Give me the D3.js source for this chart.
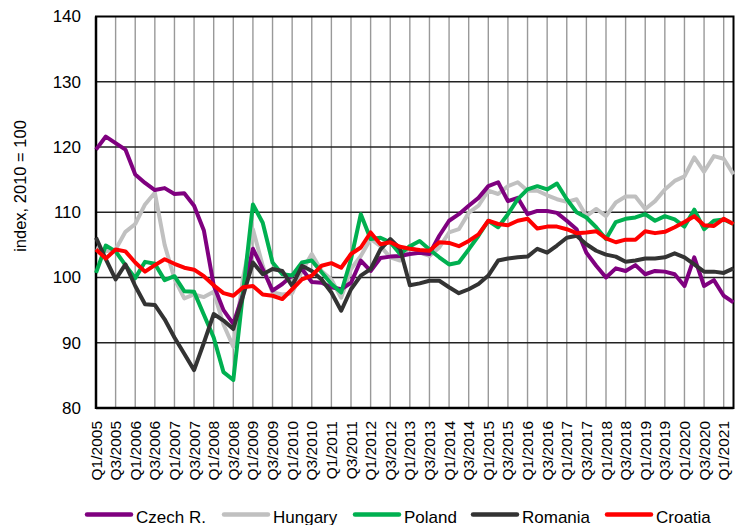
<!DOCTYPE html>
<html>
<head>
<meta charset="utf-8">
<script src="https://cdn.jsdelivr.net/npm/d3@7"></script>
<style>
  html, body { margin: 0; padding: 0; background: #fff; }
  svg { display: block; font-family: "Liberation Sans", Arial, sans-serif; }
</style>
</head>
<body>
<svg id="chart" width="735" height="525"></svg>
<script>
// Quarterly periods, Q1/2005 .. Q2/2021
const quarters = [
  "Q1/2005","Q2/2005","Q3/2005","Q4/2005","Q1/2006","Q2/2006","Q3/2006","Q4/2006",
  "Q1/2007","Q2/2007","Q3/2007","Q4/2007","Q1/2008","Q2/2008","Q3/2008","Q4/2008",
  "Q1/2009","Q2/2009","Q3/2009","Q4/2009","Q1/2010","Q2/2010","Q3/2010","Q4/2010",
  "Q1/2011","Q2/2011","Q3/2011","Q4/2011","Q1/2012","Q2/2012","Q3/2012","Q4/2012",
  "Q1/2013","Q2/2013","Q3/2013","Q4/2013","Q1/2014","Q2/2014","Q3/2014","Q4/2014",
  "Q1/2015","Q2/2015","Q3/2015","Q4/2015","Q1/2016","Q2/2016","Q3/2016","Q4/2016",
  "Q1/2017","Q2/2017","Q3/2017","Q4/2017","Q1/2018","Q2/2018","Q3/2018","Q4/2018",
  "Q1/2019","Q2/2019","Q3/2019","Q4/2019","Q1/2020","Q2/2020","Q3/2020","Q4/2020",
  "Q1/2021","Q2/2021"
];

// Index values, 2010 = 100
const czech = [
  119.6,121.6,120.6,119.6,115.8,114.5,113.4,113.7,112.8,112.9,111.0,107.2,
  98.8,95.0,92.9,97.5,104.4,101.3,98.0,99.0,100.3,101.3,99.3,99.2,
  98.5,98.2,99.2,102.6,101.0,103.0,103.2,103.3,103.6,103.8,103.6,106.4,
  108.7,109.7,111.0,112.2,114.0,114.6,111.7,112.2,109.7,110.2,110.2,109.9,
  108.7,107.4,103.8,101.8,100.0,101.4,101.0,101.9,100.5,101.0,100.9,100.5,
  98.7,103.1,98.7,99.6,97.2,96.2
];
const hungary = [
  104.5,104.0,104.3,107.0,108.2,111.2,113.0,105.0,99.8,96.8,97.4,97.0,
  97.8,92.8,89.4,100.0,107.4,101.8,97.7,97.4,97.6,101.0,103.6,101.0,
  99.7,96.9,101.3,103.3,105.9,104.8,103.1,102.6,104.8,103.8,103.3,104.6,
  106.9,107.4,109.9,111.0,113.3,112.8,114.0,114.6,113.3,113.3,112.6,112.0,
  111.6,112.0,109.4,110.5,109.4,111.5,112.4,112.4,110.5,111.7,113.5,114.8,
  115.5,118.4,116.2,118.6,118.2,115.8
];
const poland = [
  100.7,104.9,104.0,101.9,99.9,102.4,102.1,99.6,100.2,97.9,97.8,94.3,
  90.8,85.5,84.3,97.8,111.2,108.4,102.3,100.5,100.3,102.3,102.6,100.8,
  99.0,97.7,102.8,109.7,105.9,106.1,105.4,103.6,104.8,105.6,104.3,103.1,
  102.0,102.3,104.3,106.4,108.7,107.7,109.7,112.0,113.5,114.0,113.5,114.4,
  112.0,110.0,109.2,107.7,105.9,108.5,109.0,109.2,109.7,108.7,109.4,108.9,
  107.8,110.4,107.4,108.7,108.9,108.2
];
const romania = [
  106.1,102.8,99.7,102.0,98.7,95.9,95.8,93.6,90.8,88.3,85.8,90.0,
  94.4,93.4,92.1,97.2,102.3,100.5,101.3,101.0,98.7,101.8,101.0,99.7,
  97.7,94.9,98.2,100.3,101.3,104.3,105.9,104.4,98.8,99.1,99.5,99.5,
  98.5,97.6,98.2,99.0,100.3,102.6,102.9,103.1,103.2,104.4,103.8,104.9,
  106.1,106.4,105.1,104.1,103.5,103.2,102.4,102.6,102.9,102.9,103.1,103.7,
  103.1,102.0,100.9,100.9,100.7,101.4
];
const croatia = [
  104.3,102.9,104.3,104.0,102.3,100.9,101.9,102.8,102.1,101.5,101.2,100.2,
  98.8,97.6,97.2,98.5,98.7,97.4,97.2,96.7,98.2,99.7,100.3,101.8,
  102.2,101.5,103.6,104.6,106.9,105.1,105.4,104.7,104.4,104.2,104.1,105.4,
  105.3,104.8,105.6,106.6,108.7,108.2,108.0,108.7,109.0,107.5,107.8,107.8,
  107.4,106.8,106.9,107.1,106.0,105.4,105.8,105.8,107.1,106.8,107.0,107.7,
  108.5,109.4,108.0,107.9,109.0,108.2
];

const seriesNames  = ["Czech R.", "Hungary", "Poland", "Romania", "Croatia"];
const seriesValues = [czech, hungary, poland, romania, croatia];
const seriesColors = ["#7f007f", "#c0c0c0", "#00b050", "#333333", "#ff0000"];
// Hungary sits underneath the other lines
const drawOrder = [1, 0, 2, 3, 4];

const yTicks = [80, 90, 100, 110, 120, 130, 140];
const xTickLabels = quarters.filter((q, i) => i % 2 === 0);
const yTitle = "index, 2010 = 100";

const svg = d3.select("#chart");
const plot = { left: 96, right: 733.5, top: 16.5, bottom: 408 };

const x = d3.scalePoint().domain(quarters).range([plot.left, plot.right]);
const y = d3.scaleLinear().domain([80, 140]).range([plot.bottom, plot.top]);

// vertical grid at every labelled quarter
svg.append("g")
  .selectAll("line")
  .data(xTickLabels.slice(1))
  .join("line")
  .attr("x1", d => x(d)).attr("x2", d => x(d))
  .attr("y1", plot.top).attr("y2", plot.bottom)
  .attr("stroke", "#999").attr("stroke-width", 1.4);

// horizontal grid
svg.append("g")
  .selectAll("line")
  .data(yTicks.slice(1, -1))
  .join("line")
  .attr("x1", plot.left).attr("x2", plot.right)
  .attr("y1", d => y(d)).attr("y2", d => y(d))
  .attr("stroke", "#222").attr("stroke-width", 1.4);

// frame
svg.append("rect")
  .attr("x", plot.left).attr("y", plot.top)
  .attr("width", plot.right - plot.left).attr("height", plot.bottom - plot.top)
  .attr("fill", "none").attr("stroke", "#000").attr("stroke-width", 2);
svg.append("line")
  .attr("x1", plot.left).attr("x2", plot.left)
  .attr("y1", plot.top).attr("y2", plot.bottom + 1)
  .attr("stroke", "#000").attr("stroke-width", 2.5);
svg.append("line")
  .attr("x1", plot.left).attr("x2", plot.right)
  .attr("y1", plot.bottom).attr("y2", plot.bottom)
  .attr("stroke", "#000").attr("stroke-width", 2.5);

// y axis labels
const yAxis = d3.axisLeft(y).tickValues(yTicks).tickSize(0).tickPadding(15);
const gy = svg.append("g").attr("transform", `translate(${plot.left},0)`).call(yAxis);
gy.select(".domain").remove();
gy.selectAll("text")
  .attr("font-size", 17).attr("fill", "#000")
  .attr("font-family", "Liberation Sans, Arial, sans-serif");

// x axis labels, rotated
const xAxis = d3.axisBottom(x).tickValues(xTickLabels).tickSize(0).tickPadding(0);
const gx = svg.append("g").attr("transform", `translate(0,${plot.bottom})`).call(xAxis);
gx.select(".domain").remove();
gx.selectAll("text")
  .attr("font-size", 15.5).attr("fill", "#000")
  .attr("font-family", "Liberation Sans, Arial, sans-serif")
  .attr("text-anchor", "end")
  .attr("dy", null)
  .attr("y", 0)
  .attr("transform", "translate(5,13) rotate(-90)");

// y axis title
svg.append("text")
  .attr("transform", "translate(26,186) rotate(-90)")
  .attr("text-anchor", "middle")
  .attr("font-size", 16.5)
  .text(yTitle);

// series lines
const line = d3.line()
  .x((d, i) => x(quarters[i]))
  .y(d => y(d));

svg.append("g")
  .selectAll("path")
  .data(drawOrder)
  .join("path")
  .attr("d", k => line(seriesValues[k]))
  .attr("fill", "none")
  .attr("stroke", k => seriesColors[k])
  .attr("stroke-width", 4)
  .attr("stroke-linejoin", "round");

// legend
const legendX = [87, 224, 355, 473, 607];
const legend = svg.append("g");
seriesNames.forEach((name, k) => {
  legend.append("line")
    .attr("x1", legendX[k]).attr("x2", legendX[k] + 44)
    .attr("y1", 514.5).attr("y2", 514.5)
    .attr("stroke", seriesColors[k]).attr("stroke-width", 4.5)
    .attr("stroke-linecap", "round");
  legend.append("text")
    .attr("x", legendX[k] + 49).attr("y", 522.5)
    .attr("font-size", 17)
    .text(name);
});
</script>
</body>
</html>
